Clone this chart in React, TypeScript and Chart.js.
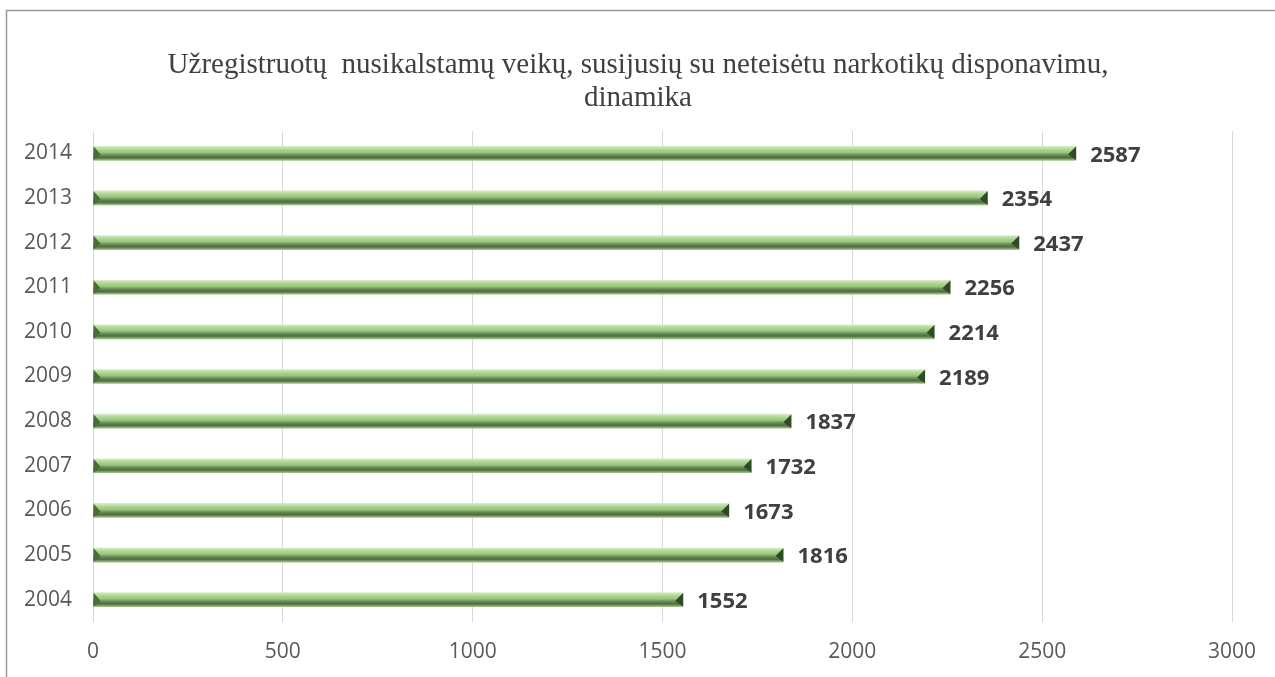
import React, { useEffect, useRef } from "react";
import { Chart, registerables } from "chart.js";

Chart.register(...registerables);

const years = ["2014", "2013", "2012", "2011", "2010", "2009", "2008", "2007", "2006", "2005", "2004"];
const values = [2587, 2354, 2437, 2256, 2214, 2189, 1837, 1732, 1673, 1816, 1552];
const titleLines = [
  "Užregistruotų  nusikalstamų veikų, susijusių su neteisėtu narkotikų disponavimu,",
  "dinamika",
];

const frame = {
  id: "frame",
  beforeDraw(chart: any) {
    const c = chart.ctx;
    c.save();
    c.fillStyle = "#ffffff";
    c.fillRect(0, 0, chart.width, chart.height);
    c.strokeStyle = "#9a9a9a";
    c.lineWidth = 1.5;
    c.beginPath();
    c.moveTo(6.5, chart.height);
    c.lineTo(6.5, 10.5);
    c.lineTo(chart.width, 10.5);
    c.stroke();
    c.fillStyle = "#404040";
    c.font = "29px 'Liberation Serif'";
    c.textAlign = "center";
    c.textBaseline = "middle";
    titleLines.forEach((t, i) => c.fillText(t, 638, 65 + i * 33));
    c.restore();
  },
};

const caps = {
  id: "caps",
  afterDatasetsDraw(chart: any) {
    const c = chart.ctx;
    const meta = chart.getDatasetMeta(0);
    c.save();
    meta.data.forEach((bar: any, i: number) => {
      const h = bar.height;
      const top = bar.y - h / 2;
      const bot = bar.y + h / 2;
      const base = bar.base;
      c.fillStyle = "#2f4a24";
      c.beginPath();
      c.moveTo(bar.x + 1, top);
      c.lineTo(bar.x + 1, bot);
      c.lineTo(bar.x - 7, bar.y + 1);
      c.closePath();
      c.fill();
      c.fillStyle = "#4a6b3a";
      c.beginPath();
      c.moveTo(base, top);
      c.lineTo(base, bot);
      c.lineTo(base + 7, bar.y + 1);
      c.closePath();
      c.fill();
      c.fillStyle = "#404040";
      c.font = "bold 22px 'Open Sans'";
      c.textAlign = "left";
      c.textBaseline = "middle";
      c.fillText(String(values[i]), bar.x + 15, bar.y + 2);
    });
    c.restore();
  },
};

export default function App() {
  const ref = useRef<HTMLCanvasElement>(null);
  useEffect(() => {
    if (!ref.current) return;
    const chart = new Chart(ref.current, {
      type: "bar",
      data: {
        labels: years,
        datasets: [
          {
            data: values,
            barThickness: 14,
            borderWidth: 0,
            backgroundColor: (ctx: any) => {
              const ch = ctx.chart;
              const ys = ch.scales && ch.scales.y;
              if (!ys || ctx.dataIndex === undefined) return "#8fbf70";
              const yc = ys.getPixelForValue(ctx.dataIndex);
              if (!Number.isFinite(yc)) return "#8fbf70";
              const g = ch.ctx.createLinearGradient(0, yc - 7, 0, yc + 7);
              g.addColorStop(0, "#d6ebc6");
              g.addColorStop(0.2, "#b0d896");
              g.addColorStop(0.45, "#95c477");
              g.addColorStop(0.62, "#6a8c58");
              g.addColorStop(0.8, "#4e6a40");
              g.addColorStop(1, "#9cc484");
              return g;
            },
          },
        ],
      },
      options: {
        indexAxis: "y",
        responsive: false,
        animation: false,
        layout: { padding: { top: 131, right: 43, bottom: 15, left: 0 } },
        plugins: {
          legend: { display: false },
          tooltip: { enabled: false },
          title: { display: false },
        },
        scales: {
          x: {
            min: 0,
            max: 3000,
            ticks: {
              stepSize: 500,
              color: "#595959",
              font: { family: "'Open Sans'", size: 21 },
              padding: 17,
              maxRotation: 0,
              callback: (v: any) => String(v),
            },
            grid: { color: "#d9d9d9", drawTicks: false, lineWidth: 1 },
            border: { display: false },
            afterFit(scale: any) {
              scale.height = 40;
            },
          },
          y: {
            ticks: {
              color: "#595959",
              font: { family: "'Open Sans'", size: 21 },
              padding: 21,
            },
            grid: { display: false, drawTicks: false },
            border: { display: false },
            afterFit(scale: any) {
              scale.width = 93;
            },
          },
        },
      },
      plugins: [frame, caps],
    } as any);
    return () => chart.destroy();
  }, []);
  return (
    <div style={{ position: "fixed", left: 0, top: 0, width: 1275, height: 677 }}>
      <canvas ref={ref} width={1275} height={677} />
    </div>
  );
}
